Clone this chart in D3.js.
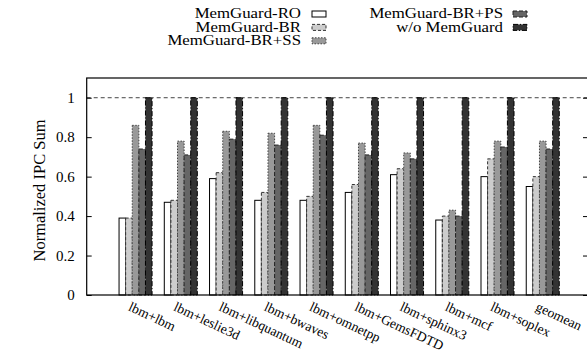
<!DOCTYPE html>
<html>
<head>
<meta charset="utf-8">
<script src="https://cdn.jsdelivr.net/npm/d3@7"></script>
<style>
  body { margin: 0; background: #fff; }
  svg { display: block; }
  text { font-family: "Liberation Serif", "Times New Roman", serif; fill: #000; }
</style>
</head>
<body>
<svg id="chart" width="587" height="350"></svg>
<script>
const categories = ["lbm+lbm", "lbm+leslie3d", "lbm+libquantum", "lbm+bwaves", "lbm+omnetpp",
  "lbm+GemsFDTD", "lbm+sphinx3", "lbm+mcf", "lbm+soplex", "geomean"];
const seriesNames = ["MemGuard-RO", "MemGuard-BR", "MemGuard-BR+SS", "MemGuard-BR+PS", "w/o MemGuard"];
const memguardRO   = [0.39, 0.47, 0.59, 0.48, 0.48, 0.52, 0.61, 0.38, 0.60, 0.55];
const memguardBR   = [0.39, 0.48, 0.62, 0.52, 0.50, 0.56, 0.64, 0.40, 0.69, 0.60];
const memguardBRSS = [0.86, 0.78, 0.83, 0.82, 0.86, 0.77, 0.72, 0.43, 0.78, 0.78];
const memguardBRPS = [0.74, 0.71, 0.79, 0.76, 0.81, 0.71, 0.69, 0.40, 0.75, 0.74];
const withoutMG    = [1, 1, 1, 1, 1, 1, 1, 1, 1, 1];
const yTicks = [0, 0.2, 0.4, 0.6, 0.8, 1];
const yTickLabels = ["0", "0.2", "0.4", "0.6", "0.8", "1"];
const allSeries = [memguardRO, memguardBR, memguardBRSS, memguardBRPS, withoutMG];

const styles = [
  { fill: "#ffffff", stroke: "#000", dash: null },
  { fill: "#cccccc", stroke: "#333", dash: "3,2" },
  { fill: "#999999", stroke: "#444", dash: "1.5,1.5" },
  { fill: "#666666", stroke: "#222", dash: "4,2" },
  { fill: "#333333", stroke: "#000", dash: "5,2,1,2" }
];

const svg = d3.select("#chart");
const mLeft = 86.7, mRight = 588, mTop = 78, mBottom = 295;
const x = d3.scaleLinear().domain([-1.08, 10]).range([mLeft, mRight]);
const y = d3.scaleLinear().domain([0, 1.1]).range([mBottom, mTop]);
const bw = 0.146; // bar width in category units

// horizontally widen text glyphs (reference text looks stretched)
function stretch(sel, factor) {
  sel.each(function () {
    const w = this.getComputedTextLength();
    d3.select(this).attr("textLength", w * factor).attr("lengthAdjust", "spacingAndGlyphs");
  });
}

// dashed reference line at 1
svg.append("line")
  .attr("x1", mLeft).attr("x2", mRight)
  .attr("y1", y(1)).attr("y2", y(1))
  .attr("stroke", "#444").attr("stroke-width", 1).attr("stroke-dasharray", "4,3");

// bars
allSeries.forEach((vals, s) => {
  svg.append("g").selectAll("rect").data(vals).join("rect")
    .attr("x", (d, i) => x(i - 2.5 * bw + s * bw))
    .attr("y", d => y(d))
    .attr("width", x(bw) - x(0))
    .attr("height", d => y(0) - y(d))
    .attr("fill", styles[s].fill)
    .attr("stroke", styles[s].stroke)
    .attr("stroke-width", 1)
    .attr("stroke-dasharray", styles[s].dash);
});

// frame
svg.append("rect")
  .attr("x", mLeft).attr("y", mTop)
  .attr("width", mRight - mLeft).attr("height", mBottom - mTop)
  .attr("fill", "none").attr("stroke", "#000").attr("stroke-width", 1.2);

// y axis
const yAxis = d3.axisLeft(y).tickValues(yTicks).tickSize(-5).tickPadding(12)
  .tickFormat((d, i) => yTickLabels[i]);
const gy = svg.append("g").attr("transform", `translate(${mLeft},0)`).call(yAxis);
gy.select(".domain").remove();
gy.selectAll("text").style("font-family", '"Liberation Serif", serif').style("font-size", "15px");
const yAxisR = d3.axisRight(y).tickValues(yTicks).tickSize(-5).tickFormat("");
const gyr = svg.append("g").attr("transform", `translate(${mRight},0)`).call(yAxisR);
gyr.select(".domain").remove();

// y label
svg.append("text")
  .attr("transform", `translate(45,${(mTop + mBottom) / 2 + 4}) rotate(-90)`)
  .attr("text-anchor", "middle")
  .style("font-size", "16.5px")
  .text("Normalized IPC Sum");

// x labels
svg.append("g").selectAll("text").data(categories).join("text")
  .attr("transform", (d, i) => `translate(${x(i) - 8},310) rotate(25)`)
  .style("font-size", "13.6px")
  .text(d => d);

// legend
const legendItems = [
  { name: seriesNames[0], col: 0, row: 0, s: 0 },
  { name: seriesNames[1], col: 0, row: 1, s: 1 },
  { name: seriesNames[2], col: 0, row: 2, s: 2 },
  { name: seriesNames[3], col: 1, row: 0, s: 3 },
  { name: seriesNames[4], col: 1, row: 1, s: 4 }
];
const colTextEnd = [301, 503];
const colBox = [312, 513];
const lg = svg.append("g").selectAll("g").data(legendItems).join("g")
  .attr("transform", d => `translate(0,${14 + d.row * 13.4})`);
const lt = lg.append("text")
  .attr("x", d => colTextEnd[d.col]).attr("y", 4.4)
  .attr("text-anchor", "end")
  .style("font-size", "14.3px")
  .text(d => d.name);
stretch(lt, 16.8 / 14.3);
lg.append("rect")
  .attr("x", d => colBox[d.col]).attr("y", -3)
  .attr("width", 14).attr("height", 6)
  .attr("fill", d => styles[d.s].fill)
  .attr("stroke", d => styles[d.s].stroke)
  .attr("stroke-dasharray", d => styles[d.s].dash);
</script>
</body>
</html>
